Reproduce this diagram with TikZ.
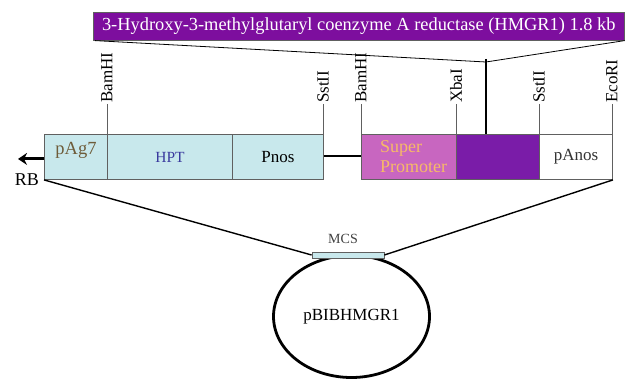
\documentclass[tikz,border=0pt]{standalone}
\usepackage{fontspec}
\setmainfont{Liberation Serif}
\usetikzlibrary{shapes.geometric, positioning, arrows.meta}

\definecolor{faixa}{HTML}{C8E8EC}
\definecolor{borda}{HTML}{606060}
\definecolor{roxo}{HTML}{7D0E9E}
\definecolor{roxoB}{HTML}{7A1CA8}
\definecolor{rosa}{HTML}{C866C0}
\definecolor{laranja}{HTML}{F7BA66}
\definecolor{marrom}{HTML}{6E5C3A}
\definecolor{azul}{HTML}{3A3A9E}

\tikzset{
  seg/.style={draw=borda, line width=0.9pt, minimum height=45pt, inner sep=0pt, anchor=north west, font=\fontsize{17}{17}\selectfont},
  sitio/.style={rotate=90, anchor=west, inner sep=1pt, font=\fontsize{17}{17}\selectfont},
  corte/.style={draw=borda, line width=0.9pt}
}

\begin{document}
\begin{tikzpicture}[x=1pt, y=-1pt]
\useasboundingbox (0,0) rectangle (626,379);

% --- Titulo do gene ---
\node[fill=roxo, draw=borda, line width=0.6pt, minimum width=531pt, minimum height=28pt, inner sep=0pt, anchor=north west, text=white, font=\fontsize{18.4}{18.4}\selectfont] (gene) at (93,12) {3-Hydroxy-3-methylglutaryl coenzyme A reductase (HMGR1) 1.8 kb};
\coordinate (juncao) at (486,62);
\draw[line width=0.8pt] ([xshift=2pt]gene.south west) -- (juncao) -- (gene.south east);
\draw[line width=2.6pt] (486,59) -- (486,134);

% --- Segmentos do T-DNA ---
\node[seg, fill=faixa, minimum width=63pt] (pag) at (44,134) {};
\node[text=marrom, font=\fontsize{18.5}{18.5}\selectfont] (pagtxt) at (76,150) {pAg7};
\node[seg, fill=faixa, minimum width=125pt, text=azul, font=\fontsize{15.5}{15.5}\selectfont] (hpt) at (107,134) {HPT};
\node[seg, fill=faixa, minimum width=91pt] (pnos) at (232,134) {Pnos};
\node[seg, fill=rosa, minimum width=95pt] (super) at (361,134) {};
\node[text=laranja, align=left, anchor=west, inner sep=0pt, font=\fontsize{18}{20}\selectfont] (supertxt) at (380,157) {Super\\Promoter};
\node[seg, fill=roxoB, minimum width=83pt] (hmgr) at (456,134) {};
\node[seg, fill=white, minimum width=73pt, text=black!80] (panos) at (539,134) {pAnos};

\draw[line width=2.6pt] ([yshift=1pt]pnos.east) -- ([yshift=1pt]super.west);

% LB/RB
\draw[line width=3pt, -{Stealth[length=9pt, width=12pt]}] ([yshift=-2pt]pag.west) -- ++(-26,0);
\node[anchor=east, inner sep=1pt, font=\fontsize{18}{18}\selectfont] (rb) at ([xshift=-4pt]pag.south west) {RB};

% --- Sitios de restricao ---
\foreach \px/\nome in {107/BamHI, 323/SstII, 361/BamHI, 456/XbaI, 539/SstII, 612/EcoRI} {
  \node[sitio] (s\px) at (\px,104) {\nome};
  \draw[corte] (s\px.west) -- (\px,134);
}

% --- Plasmideo ---
\node[ellipse, draw, line width=2.8pt, minimum width=156pt, minimum height=122pt, font=\fontsize{17}{17}\selectfont] (pbib) at (351.5,316.5) {pBIBHMGR1};
\node[draw=borda, fill=faixa, line width=0.8pt, minimum width=72pt, minimum height=6pt, inner sep=0pt] (mcs) at (348,255) {};
\node[above=8pt of mcs, xshift=-5pt, inner sep=0pt, text=black!75, font=\fontsize{14}{14}\selectfont] (mcstxt) {MCS};

\draw[line width=1.4pt] (pag.south west) -- (mcs.west);
\draw[line width=1.4pt] (panos.south east) -- (mcs.east);
\end{tikzpicture}
\end{document}
